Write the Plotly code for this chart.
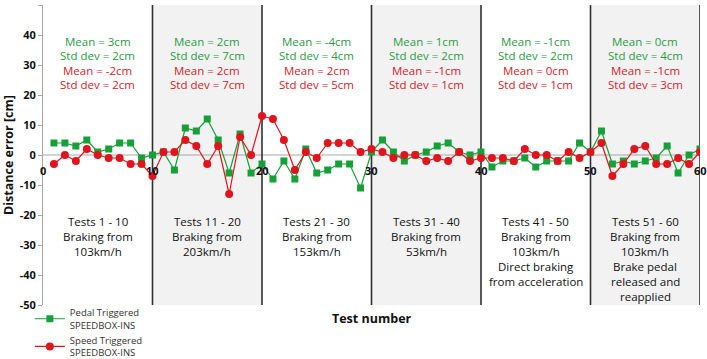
import plotly.graph_objects as go

tests = list(range(1, 61))
pedal = [4, 4, 3, 5, 1, 2, 4, 4, -1, 0,
         1, -5, 9, 8, 12, 5, -6, 7, -6, -3,
         -8, -2, -8, 2, -6, -5, -3, -3, -11, 1,
         5, 1, -2, 0, 1, 3, 4, 1, 0, 1,
         -4, -2, -2, -1, -4, -2, -2, -2, 4, 1,
         8, -3, -2, -3, -2, -1, 3, -6, 0, 2]
speed = [-3, 0, -2, 2, 0, -1, -1, -3, -3, -7,
         1, 1, 5, 3, -3, 3, -13, 6, 0, 13,
         12, 5, -5, 1, -1, 4, 4, 4, 1, 2,
         1, -1, 0, 0, -2, -1, -2, 1, -2, -1,
         -1, -1, -2, 2, 0, 0, -2, 1, -1, 1,
         4, -7, -3, 2, 3, -3, -3, -1, -3, 1]

section_starts = [0, 10, 20, 30, 40, 50]
shaded = [False, True, False, True, False, True]
pedal_mean = ["3", "2", "-4", "1", "-1", "0"]
pedal_std = ["2", "7", "4", "2", "2", "4"]
speed_mean = ["-2", "2", "2", "-1", "0", "-1"]
speed_std = ["2", "7", "5", "1", "1", "3"]
section_labels = [
    ["Tests 1 - 10", "Braking from", "103km/h"],
    ["Tests 11 - 20", "Braking from", "203km/h"],
    ["Tests 21 - 30", "Braking from", "153km/h"],
    ["Tests 31 - 40", "Braking from", "53km/h"],
    ["Tests 41 - 50", "Braking from", "103km/h", "Direct braking", "from acceleration"],
    ["Tests 51 - 60", "Braking from", "103km/h", "Brake pedal", "released and", "reapplied"],
]
x_ticks = [0, 10, 20, 30, 40, 50, 60]
y_ticks = [50, 40, 30, 20, 10, 0, -10, -20, -30, -40, -50]

GREEN = "#16a038"
RED = "#e0141c"
TXT_GREEN = "#2a9c45"
TXT_RED = "#d8202a"
FONT = "Open Sans"

fig = go.Figure()
fig.add_trace(go.Scatter(
    x=tests, y=pedal, mode="lines+markers", name="Pedal Triggered<br>SPEEDBOX-INS", legendgroup="a",
    line=dict(color=GREEN, width=1.2), marker=dict(symbol="square", size=7, color=GREEN)))
fig.add_trace(go.Scatter(
    x=tests, y=speed, mode="lines+markers", name="Speed Triggered<br>SPEEDBOX-INS", legendgroup="b",
    line=dict(color=RED, width=1.2), marker=dict(symbol="circle", size=8, color=RED)))

shapes = []
for s, sh in zip(section_starts, shaded):
    if sh:
        shapes.append(dict(type="rect", xref="x", yref="y", x0=s, x1=s + 10, y0=-50, y1=50,
                           fillcolor="#f2f2f2", line=dict(width=0), layer="below"))
shapes.append(dict(type="line", xref="x", yref="y", x0=0, x1=60, y0=0, y1=0,
                   line=dict(color="#a6a6a6", width=1), layer="below"))
for s in section_starts:
    shapes.append(dict(type="line", xref="x", yref="y", x0=s + 10, x1=s + 10, y0=-50, y1=50,
                       line=dict(color="#303030", width=1.6), layer="below"))

annotations = []
for s, pm, ps, sm, ss, labels in zip(section_starts, pedal_mean, pedal_std, speed_mean, speed_std, section_labels):
    cx = s + 5
    stats = [(f"Mean = {pm}cm", TXT_GREEN), (f"Std dev = {ps}cm", TXT_GREEN),
             (f"Mean = {sm}cm", TXT_RED), (f"Std dev = {ss}cm", TXT_RED)]
    for i, (t, c) in enumerate(stats):
        annotations.append(dict(x=cx, y=38 - i * 4.85, xref="x", yref="y", text=t, showarrow=False,
                                font=dict(family=FONT, size=11.5, color=c), xanchor="center", yanchor="middle"))
    for i, t in enumerate(labels):
        annotations.append(dict(x=cx, y=-22 - i * 5, xref="x", yref="y", text=t, showarrow=False,
                                font=dict(family=FONT, size=11.5, color="#111111"), xanchor="center", yanchor="middle"))
for xt in x_ticks:
    annotations.append(dict(x=xt, y=0, xref="x", yref="y", text=f"<b>{xt}</b>", showarrow=False,
                            font=dict(family=FONT, size=11, color="#111111"), xanchor="center",
                            yanchor="middle", yshift=-15))
annotations.append(dict(x=0.5, y=-0.01, xref="paper", yref="paper", text="<b>Test number</b>",
                        showarrow=False, font=dict(family=FONT, size=12.5, color="#111111"),
                        xanchor="center", yanchor="top"))

fig.update_layout(
    width=707, height=359,
    margin=dict(l=43, r=7, t=5, b=54, autoexpand=False),
    paper_bgcolor="white", plot_bgcolor="white",
    font=dict(family=FONT, color="#111111"),
    shapes=shapes, annotations=annotations,
    showlegend=True,
    legend=dict(x=-0.02, y=0.017, xanchor="left", yanchor="top", font=dict(family=FONT, size=9.5, color="#333333"),
                bgcolor="rgba(0,0,0,0)", tracegroupgap=0, itemwidth=30),
    xaxis=dict(range=[0, 60], showgrid=False, zeroline=False, showticklabels=False, showline=False,
               fixedrange=True, automargin=False),
    yaxis=dict(range=[-50, 50], tickvals=y_ticks, ticktext=[f"<b>{v}</b>" for v in y_ticks],
               showgrid=False, zeroline=False, showline=True, linecolor="#a6a6a6", linewidth=1,
               ticks="outside", ticklen=4, tickcolor="#a6a6a6", tickfont=dict(family=FONT, size=11, color="#111111"),
               automargin=False, fixedrange=True,
               title=dict(text="<b>Distance error [cm]</b>", font=dict(family=FONT, size=12.5, color="#111111"), standoff=6)),
)
fig.write_html("out.html", config={"displayModeBar": False},
               post_script="document.body.style.margin='0';document.body.style.overflow='hidden';")
